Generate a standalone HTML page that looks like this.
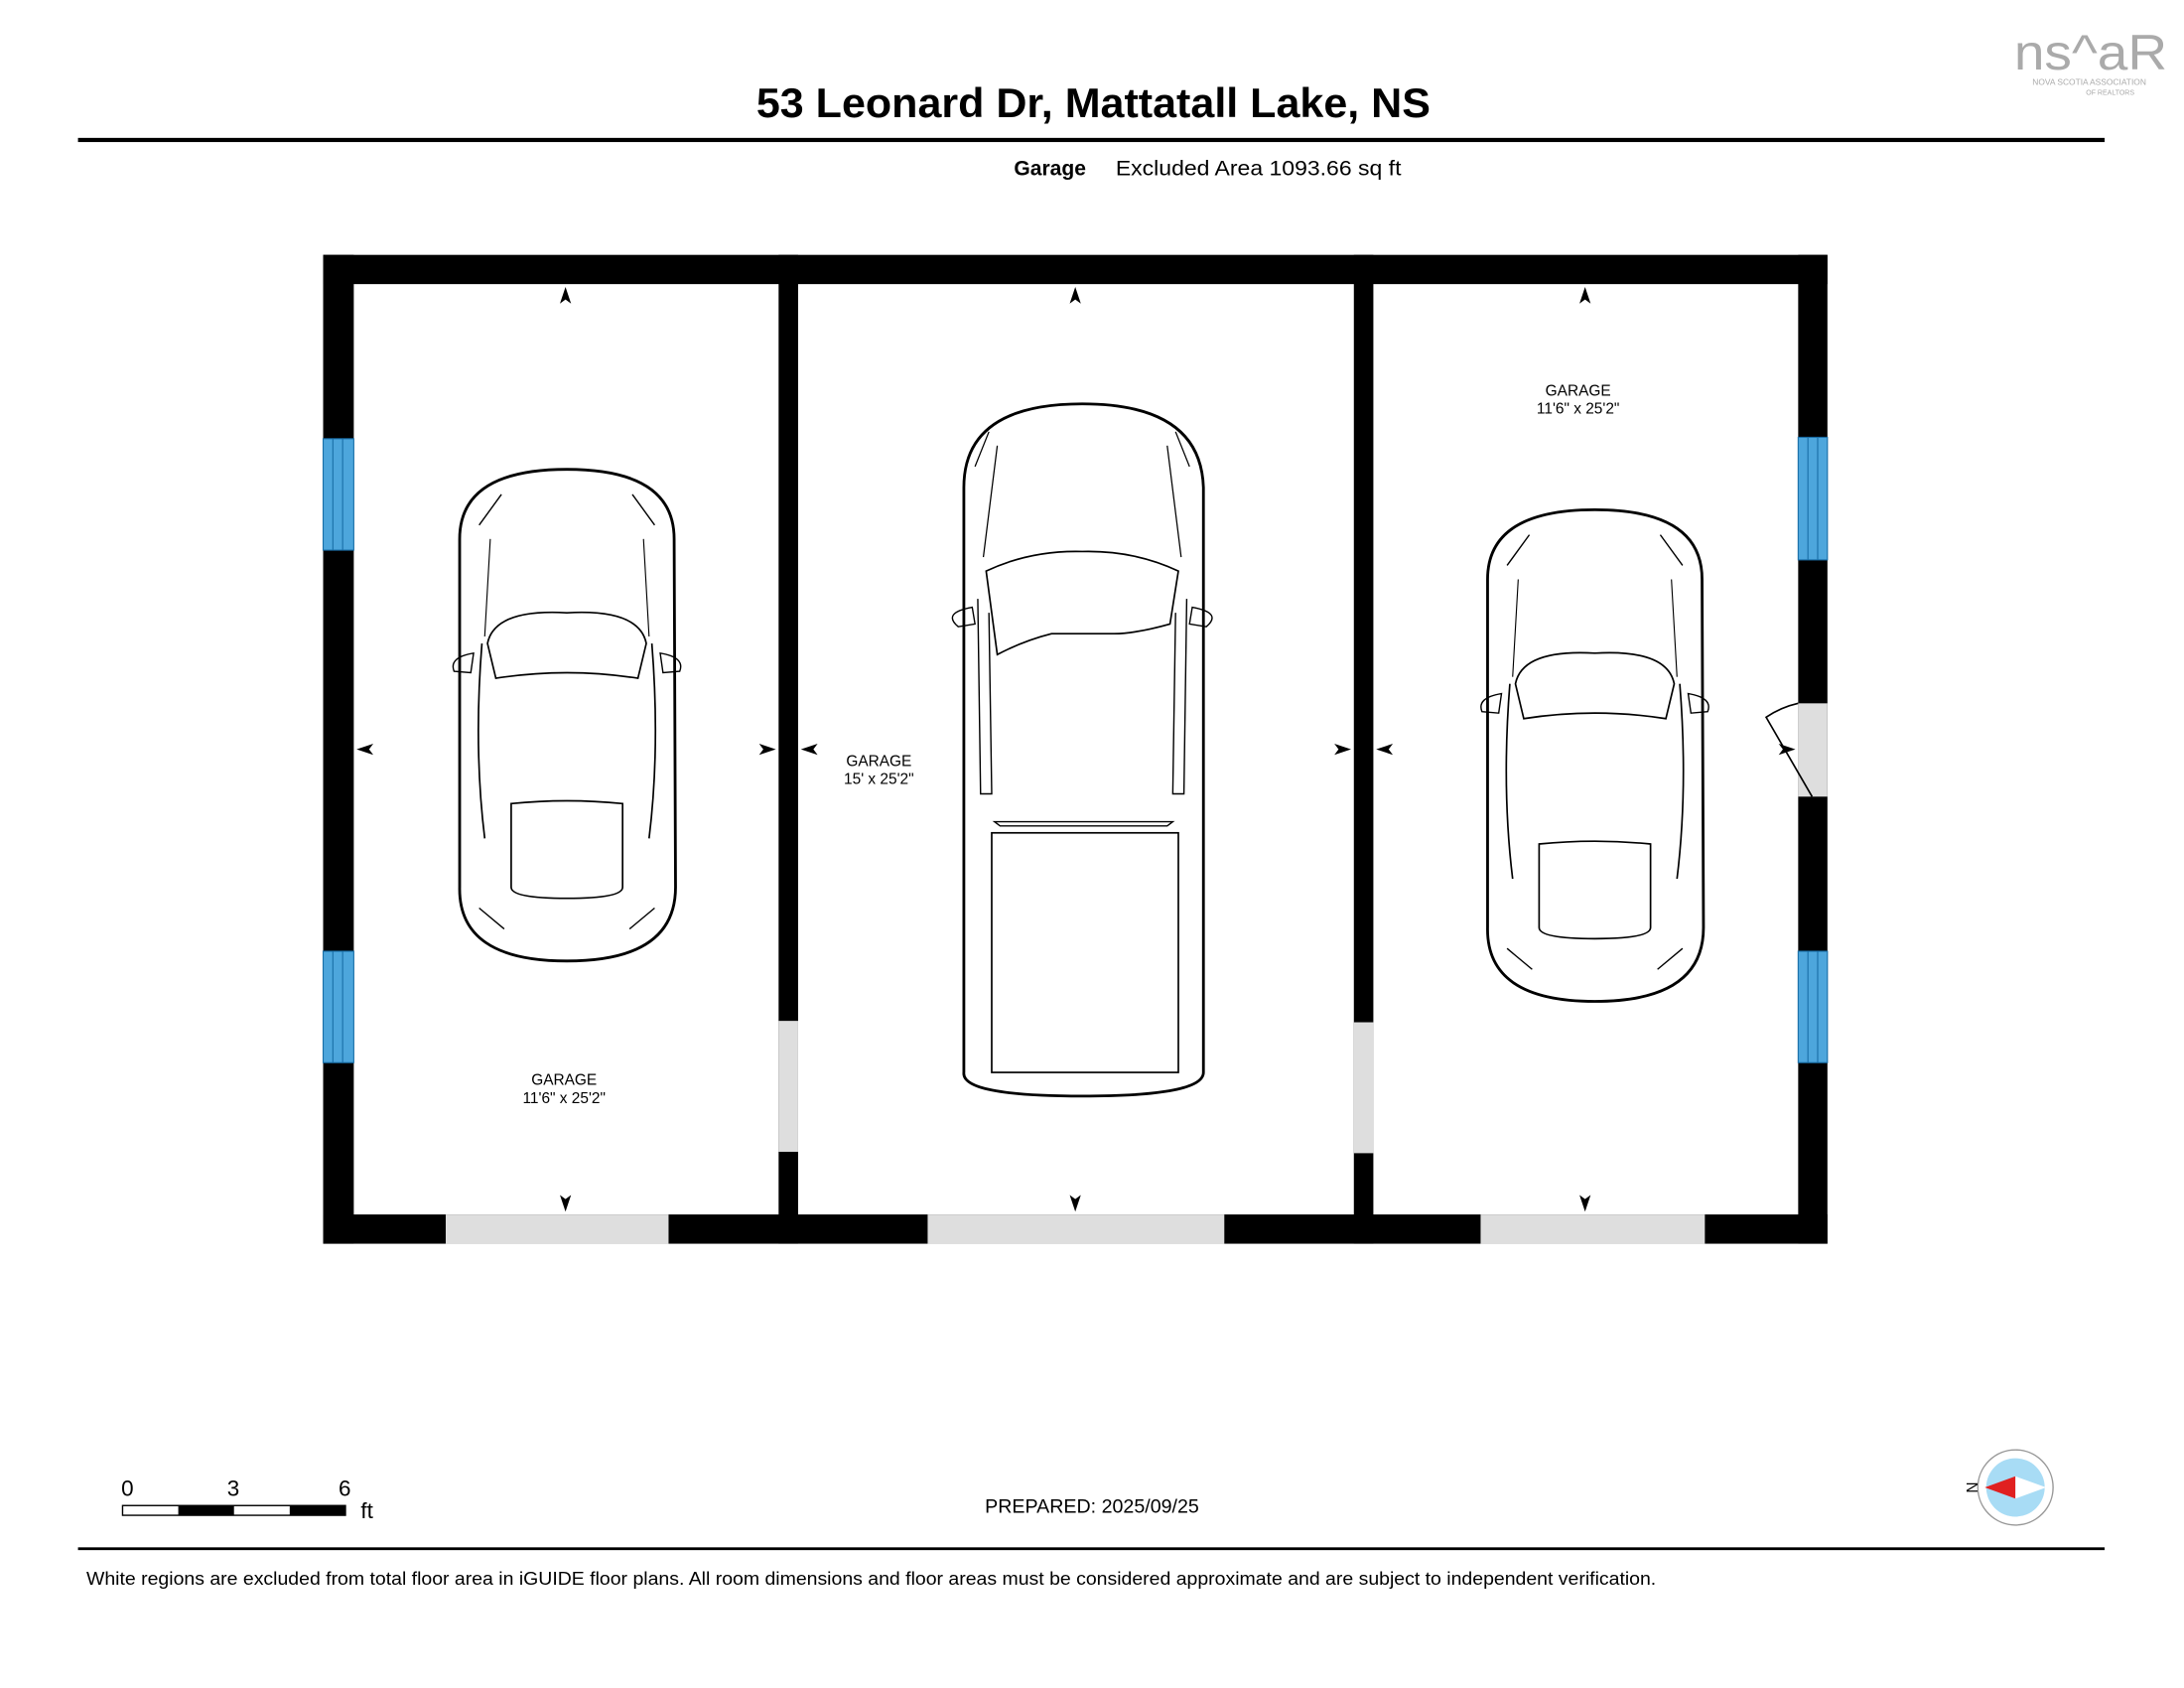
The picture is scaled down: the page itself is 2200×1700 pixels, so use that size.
<!DOCTYPE html>
<html><head><meta charset="utf-8"><style>
html,body{margin:0;padding:0;background:#fff;}
svg{display:block;}
text{font-family:"Liberation Sans",Arial,sans-serif;}
</style></head><body>
<svg width="2200" height="1700" viewBox="0 0 1568 1212" preserveAspectRatio="none" xmlns="http://www.w3.org/2000/svg">
<rect width="1568" height="1212" fill="#fff"/>
<!-- logo -->
<text x="1446" y="50" font-size="36" fill="#aaa" textLength="110" lengthAdjust="spacingAndGlyphs">ns^aR</text>
<text x="1500" y="61" font-size="6" fill="#aaa" text-anchor="middle">NOVA SCOTIA ASSOCIATION</text>
<text x="1515" y="68" font-size="5" fill="#aaa" text-anchor="middle">OF REALTORS</text>
<!-- header -->
<text x="785" y="84" font-size="30" font-weight="bold" text-anchor="middle" textLength="484" lengthAdjust="spacingAndGlyphs">53 Leonard Dr, Mattatall Lake, NS</text>
<rect x="56" y="99" width="1455" height="3" fill="#000"/>
<text x="728" y="126" font-size="15" font-weight="bold">Garage</text>
<text x="801" y="126" font-size="15" textLength="205" lengthAdjust="spacingAndGlyphs">Excluded Area 1093.66 sq ft</text>
<!-- walls -->
<rect x="232" y="183" width="1080" height="21" fill="#000"/>
<rect x="232" y="872" width="1080" height="21" fill="#000"/>
<rect x="232" y="183" width="22" height="710" fill="#000"/>
<rect x="1291" y="183" width="21" height="710" fill="#000"/>
<rect x="559" y="183" width="14" height="710" fill="#000"/>
<rect x="972" y="183" width="14" height="710" fill="#000"/>
<!-- windows -->
<g fill="#4da6dc" stroke="#1a6fa8" stroke-width="0.8">
<rect x="232" y="315" width="22" height="80"/><rect x="232" y="683" width="22" height="80"/>
<rect x="1291" y="314" width="21" height="88"/><rect x="1291" y="683" width="21" height="80"/>
</g>
<g stroke="#1a6fa8" stroke-width="0.8">
<line x1="239" y1="315" x2="239" y2="395"/><line x1="246" y1="315" x2="246" y2="395"/>
<line x1="239" y1="683" x2="239" y2="763"/><line x1="246" y1="683" x2="246" y2="763"/>
<line x1="1298" y1="314" x2="1298" y2="402"/><line x1="1305" y1="314" x2="1305" y2="402"/>
<line x1="1298" y1="683" x2="1298" y2="763"/><line x1="1305" y1="683" x2="1305" y2="763"/>
</g>
<!-- doors/openings -->
<g fill="#dedede">
<rect x="320" y="872" width="160" height="21"/><rect x="666" y="872" width="213" height="21"/><rect x="1063" y="872" width="161" height="21"/>
<rect x="559" y="733" width="14" height="94"/><rect x="972" y="734" width="14" height="94"/>
<rect x="1291" y="505" width="21" height="67"/>
</g>
<path d="M1291 505 A67 67 0 0 0 1268 515 L1301 572" fill="none" stroke="#000" stroke-width="1.2"/>
<!-- arrows -->
<g fill="#000">
<path d="M406 206 l-4 12 4 -3 4 3z"/><path d="M772 206 l-4 12 4 -3 4 3z"/><path d="M1138 206 l-4 12 4 -3 4 3z"/>
<path d="M406 870 l-4 -12 4 3 4 -3z"/><path d="M772 870 l-4 -12 4 3 4 -3z"/><path d="M1138 870 l-4 -12 4 3 4 -3z"/>
<path d="M256 538 l12 -4 -3 4 3 4z"/><path d="M557 538 l-12 -4 3 4 -3 4z"/>
<path d="M575 538 l12 -4 -3 4 3 4z"/><path d="M970 538 l-12 -4 3 4 -3 4z"/>
<path d="M988 538 l12 -4 -3 4 3 4z"/><path d="M1289 538 l-12 -4 3 4 -3 4z"/>
</g>
<!-- labels -->
<g font-size="11" text-anchor="middle">
<text x="405" y="779">GARAGE</text><text x="405" y="792">11'6" x 25'2"</text>
<text x="631" y="550">GARAGE</text><text x="631" y="563">15' x 25'2"</text>
<text x="1133" y="284">GARAGE</text><text x="1133" y="297">11'6" x 25'2"</text>
</g>
<!-- cars -->
<defs>
<g id="car" fill="none" stroke="#000">
<path d="M0 50 Q0 0 77 0 Q154 0 154 50 L155 300 Q155 353 77 353 Q-1 353 0 300 Z" stroke-width="2" fill="#fff"/>
<path d="M20 125 Q25 100 77 103 Q129 100 134 125 L128 150 Q77 142 26 150 Z" stroke-width="1.2"/>
<path d="M37 240 Q77 236 117 240 L117 300 Q117 308 77 308 Q37 308 37 300 Z" stroke-width="1.2"/>
<path d="M16 125 Q10 200 18 265 M138 125 Q144 200 136 265" stroke-width="1.2"/>
<path d="M22 50 L18 120 M132 50 L136 120" stroke-width="0.8"/>
<path d="M14 40 L30 18 M140 40 L124 18 M14 315 L32 330 M140 315 L122 330" stroke-width="1"/>
<path d="M-4 145 Q-8 135 10 132 L8 146 Z M158 145 Q162 135 144 132 L146 146 Z" stroke-width="1"/>
</g>
</defs>
<use href="#car" x="330" y="337"/>
<use href="#car" x="1068" y="366"/>
<!-- truck -->
<g fill="none" stroke="#000">
<path d="M692 350 Q692 290 777 290 Q862 290 864 350 L864 770 Q864 787 777 787 Q690 787 692 770 Z" stroke-width="2" fill="#fff"/>
<path d="M708 410 Q740 395 777 396 Q814 395 846 410 L840 448 Q815 455 800 455 L755 455 Q735 460 716 470 Z" stroke-width="1.2"/>
<rect x="712" y="598" width="134" height="172" stroke-width="1.2"/>
<path d="M714 590 L842 590 L838 593 L718 593Z" stroke-width="1"/>
<path d="M702 430 L704 570 L712 570 L710 440 M852 430 L850 570 L842 570 L844 440" stroke-width="1"/>
<path d="M710 310 L700 335 M844 310 L854 335 M716 320 L706 400 M838 320 L848 400" stroke-width="0.9"/>
<path d="M688 450 Q676 440 698 436 L700 448Z M866 450 Q878 440 856 436 L854 448Z" stroke-width="1"/>
</g>
<!-- bottom -->
<g font-size="16"><text x="87" y="1074">0</text><text x="163" y="1074">3</text><text x="243" y="1074">6</text><text x="259" y="1090">ft</text></g>
<rect x="88" y="1081" width="160" height="7" fill="#fff" stroke="#000" stroke-width="1"/>
<rect x="128" y="1081" width="40" height="7" fill="#000"/><rect x="208" y="1081" width="40" height="7" fill="#000"/>
<text x="784" y="1086" font-size="14" text-anchor="middle">PREPARED: 2025/09/25</text>
<circle cx="1447" cy="1068" r="27" fill="#fff" stroke="#999" stroke-width="1"/>
<circle cx="1447" cy="1068" r="21" fill="#a8dcf5"/>
<path d="M1425 1068 L1447 1060 L1447 1076Z" fill="#e02020"/><path d="M1469 1068 L1447 1060 L1447 1076Z" fill="#fff"/>
<text x="1412" y="1068" font-size="11" transform="rotate(90 1412 1068)" text-anchor="middle">N</text>
<rect x="56" y="1111" width="1455" height="2" fill="#000"/>
<text x="62" y="1138" font-size="13" textLength="1127" lengthAdjust="spacingAndGlyphs">White regions are excluded from total floor area in iGUIDE floor plans. All room dimensions and floor areas must be considered approximate and are subject to independent verification.</text>
</svg>
</body></html>
